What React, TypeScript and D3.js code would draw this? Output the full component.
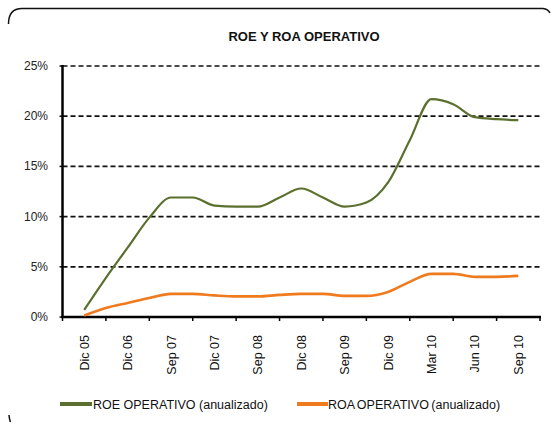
import React from 'react';
import * as d3 from 'd3';

// categories on the x axis
const categories = ['Dic 05', 'Dic 06', 'Sep 07', 'Dic 07', 'Sep 08', 'Dic 08', 'Sep 09', 'Dic 09', 'Mar 10', 'Jun 10', 'Sep 10'];
// readings every half category (position index on the category axis)
const steps = d3.range(0, 10.01, 0.5);
const roe = [0.7, 3.9, 6.9, 9.9, 11.9, 11.9, 11.1, 11.0, 11.0, 11.9, 12.8, 11.9, 11.0, 11.4, 13.4, 17.6, 21.7, 21.2, 19.9, 19.7, 19.6];
const roa = [0.15, 0.9, 1.4, 1.9, 2.3, 2.3, 2.15, 2.05, 2.05, 2.2, 2.3, 2.3, 2.1, 2.1, 2.5, 3.5, 4.3, 4.3, 4.0, 4.0, 4.1];
const yTicks = [0, 5, 10, 15, 20, 25];
const seriesNames = ['ROE OPERATIVO (anualizado)', 'ROA OPERATIVO (anualizado)'];

const GREEN = '#5b6f2e';
const ORANGE = '#f07a1e';
const FONT = 'Liberation Sans, Arial, sans-serif';

const App = () => {
    const left = 62.5, right = 540, top = 66, bottom = 317;
    const band = d3.scaleBand<string>().domain(categories).range([left, right]);
    const x = d3.scaleLinear().domain([-0.5, categories.length - 0.5]).range([left, right]);
    const y = d3.scaleLinear().domain([0, 25]).range([bottom, top]);
    const line = d3.line<number>()
        .x((d, i) => x(steps[i]))
        .y(d => y(d))
        .curve(d3.curveMonotoneX);
    const boundaries = d3.range(categories.length + 1).map(j => left + j * band.step());

    return (
        <svg width={551} height={422} style={{position: 'absolute', left: 0, top: 0}} fontFamily={FONT}>
            <rect width={551} height={422} fill="#fff"/>
            {/* frame, only the visible pieces */}
            <path d="M8.5,24 Q8.5,8.5 22,8.5 L543,8.5 Q548,9 550,13" fill="none" stroke="#111" strokeWidth={1.5}/>
            <path d="M9,415 Q10,427 18,431" fill="none" stroke="#111" strokeWidth={1.5}/>

            <text x={304} y={41} textAnchor="middle" fontSize={13} fontWeight="bold" fill="#111">ROE Y ROA OPERATIVO</text>

            {yTicks.map(t => (
                <g key={t}>
                    {t > 0 && <line x1={left} x2={right} y1={y(t)} y2={y(t)} stroke="#111" strokeWidth={1.7} strokeDasharray="5,3"/>}
                    <line x1={left - 3} x2={left} y1={y(t)} y2={y(t)} stroke="#111" strokeWidth={1.5}/>
                    <text x={48} y={y(t) + 4} textAnchor="end" fontSize={12} fill="#222">{t + '%'}</text>
                </g>
            ))}

            <line x1={left} x2={left} y1={top - 1} y2={bottom + 1} stroke="#000" strokeWidth={2.5}/>
            <line x1={left - 1} x2={right + 1} y1={bottom} y2={bottom} stroke="#000" strokeWidth={2.5}/>
            {boundaries.map((b, j) => (
                <line key={j} x1={b} x2={b} y1={bottom} y2={bottom + 4} stroke="#000" strokeWidth={1.5}/>
            ))}
            {categories.map(c => {
                const cx = (band(c) as number) + band.bandwidth() / 2 + 4.5;
                return (
                    <text key={c} transform={`translate(${cx},335) rotate(-90)`} textAnchor="end"
                          fontSize={12.5} fill="#111">{c}</text>
                );
            })}

            <path d={line(roa) || ''} fill="none" stroke={ORANGE} strokeWidth={2.6} strokeLinejoin="round"/>
            <path d={line(roe) || ''} fill="none" stroke={GREEN} strokeWidth={2.2} strokeLinejoin="round"/>

            <line x1={60} x2={92} y1={404} y2={404} stroke={GREEN} strokeWidth={4}/>
            <text x={93} y={408.5} fontSize={12.5} fill="#111">{seriesNames[0]}</text>
            <line x1={297} x2={328} y1={404} y2={404} stroke={ORANGE} strokeWidth={4}/>
            <text x={328} y={408.5} fontSize={12.5} fill="#111" wordSpacing={-1}>{seriesNames[1]}</text>
        </svg>
    );
};

export default App;
